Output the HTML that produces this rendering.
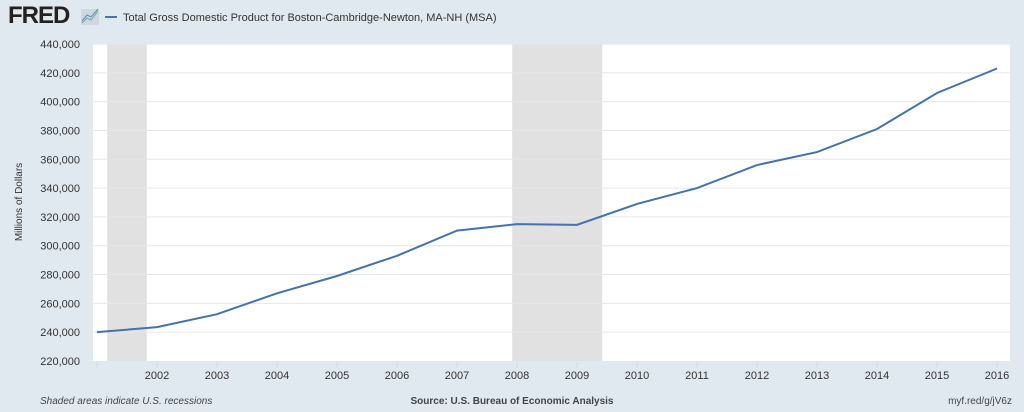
<!DOCTYPE html>
<html><head><meta charset="utf-8"><style>
body{margin:0;background:#e1e9f0;font-family:"Liberation Sans",sans-serif;}
svg{display:block}
</style></head><body>
<svg width="1024" height="412">
<rect width="1024" height="412" fill="#e1e9f0"/>
<text x="8" y="23" font-size="24" font-weight="bold" fill="#222" letter-spacing="-1">FRED</text>
<g><rect x="81" y="9" width="18" height="16" fill="#cfd8e0"/><polyline points="82,23 87,18 91,20 98,11" stroke="#6a9" fill="none"/><polyline points="82,21 87,15 91,17 98,9" stroke="#68b" fill="none"/></g>
<line x1="105" y1="17" x2="117" y2="17" stroke="#4572a7" stroke-width="2"/>
<text x="123" y="21" font-size="11" fill="#333">Total Gross Domestic Product for Boston-Cambridge-Newton, MA-NH (MSA)</text>
<rect x="93" y="44" width="917" height="317" fill="#fff"/>
<g id="rec"></g><g id="grid"></g><g id="xt"></g>
<path id="line" fill="none" stroke="#4572a7" stroke-width="2"/>
<text transform="translate(22,202) rotate(-90)" text-anchor="middle" font-size="10" fill="#333">Millions of Dollars</text>
<text x="40" y="404" font-size="10" font-style="italic" fill="#444">Shaded areas indicate U.S. recessions</text>
<text x="512" y="404" text-anchor="middle" font-size="10" font-weight="bold" fill="#444">Source: U.S. Bureau of Economic Analysis</text>
<text x="1012" y="404" text-anchor="end" font-size="10" fill="#444">myf.red/g/jV6z</text>
</svg>
<script>
const years=[2001,2002,2003,2004,2005,2006,2007,2008,2009,2010,2011,2012,2013,2014,2015,2016];
const values=[240000,243500,252500,267000,279000,293000,310500,315000,314500,329000,340000,356000,365000,381000,406000,423000];
const yTicks=[220000,240000,260000,280000,300000,320000,340000,360000,380000,400000,420000,440000];
const xTickLabels=[2002,2003,2004,2005,2006,2007,2008,2009,2010,2011,2012,2013,2014,2015,2016];
const recessions=[[2001.17,2001.83],[2007.92,2009.42]];
const NS="http://www.w3.org/2000/svg";
const X=v=>97+(v-2001)*60;
const Y=v=>361-(v-220000)/220000*317;
function mk(t,a,p){const e=document.createElementNS(NS,t);for(const k in a)e.setAttribute(k,a[k]);p.appendChild(e);return e;}
const rec=document.getElementById('rec');
recessions.forEach(r=>{const e=mk('rect',{x:X(r[0]),y:44,width:X(r[1])-X(r[0]),height:317,fill:'#e1e1e1'},rec);

});
const grid=document.getElementById('grid');
yTicks.forEach(t=>{if(t>220000){const l=mk('line',{x1:93,x2:1010,y1:Y(t),y2:Y(t),stroke:'#e6e6e6'},grid);

}
const tx=mk('text',{x:80,y:Y(t)+4,'text-anchor':'end','font-size':11,fill:'#333'},grid);tx.textContent=t.toLocaleString('en-US');

});
const xt=document.getElementById('xt');
mk('line',{x1:X(2001),x2:X(2001),y1:362,y2:368,stroke:'#ccd6eb'},xt);
xTickLabels.forEach(y=>{const l=mk('line',{x1:X(y),x2:X(y),y1:362,y2:368,stroke:'#ccd6eb'},xt);


const tx=mk('text',{x:X(y),y:379,'text-anchor':'middle','font-size':11,fill:'#333'},xt);tx.textContent=y;

});
document.getElementById('line').setAttribute('d',years.map((y,i)=>(i?'L':'M')+X(y)+','+Y(values[i])).join(''));
</script>
</body></html>
